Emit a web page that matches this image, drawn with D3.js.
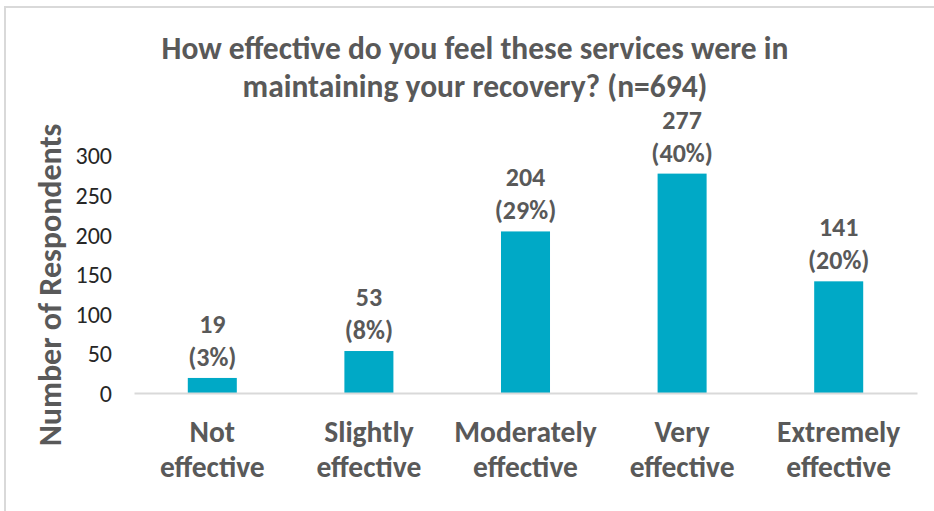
<!DOCTYPE html>
<html>
<head>
<meta charset="utf-8">
<script src="https://cdn.jsdelivr.net/npm/d3@7"></script>
<style>
  html, body { margin: 0; padding: 0; background: #fff; }
  svg { display: block; font-family: Carlito, Calibri, Lato, "Open Sans", sans-serif; }
</style>
</head>
<body>
<svg id="chart" width="934" height="511"></svg>
<script>
// Survey responses: perceived effectiveness of services in maintaining recovery
const categories = [
  ["Not", "effective"],
  ["Slightly", "effective"],
  ["Moderately", "effective"],
  ["Very", "effective"],
  ["Extremely", "effective"]
];
const counts = [19, 53, 204, 277, 141];
const percents = ["3%", "8%", "29%", "40%", "20%"];
const yTicks = [0, 50, 100, 150, 200, 250, 300];
const titleLines = [
  "How effective do you feel these services were in",
  "maintaining your recovery? (n=694)"
];
const yTitle = "Number of Respondents";

const W = 934, H = 511;
const svg = d3.select("#chart");
const textGray = "#595959";
const barColor = "#00A9C6";

// chart frame
svg.append("rect")
  .attr("x", 5).attr("y", 7)
  .attr("width", W + 20).attr("height", H + 20)
  .attr("fill", "#fff")
  .attr("stroke", "#D9D9D9").attr("stroke-width", 2);

const keys = categories.map(c => c.join(" "));
const pad = 0.687;
const x = d3.scaleBand()
  .domain(keys)
  .range([134, 917])
  .paddingInner(pad)
  .paddingOuter(pad / 2);

const y = d3.scaleLinear().domain([0, 300]).range([393, 155.4]);

// title
svg.append("text")
  .attr("text-anchor", "middle")
  .attr("fill", textGray)
  .attr("font-weight", "bold")
  .attr("font-size", 31.5)
  .selectAll("tspan")
  .data(titleLines)
  .join("tspan")
  .attr("x", 475)
  .attr("y", (d, i) => 48 + i * 38)
  .attr("dominant-baseline", "central")
  .text(d => d);

// y axis labels
const yAxis = d3.axisLeft(y).tickValues(yTicks).tickSize(0).tickPadding(0);
const gy = svg.append("g")
  .attr("transform", "translate(112,0)")
  .call(yAxis);
gy.select(".domain").remove();
gy.selectAll("text")
  .attr("font-family", "Carlito, Calibri, Lato, sans-serif")
  .attr("font-size", 24)
  .attr("fill", "#262626")
  .attr("dy", "0.35em");

// y axis title
svg.append("text")
  .attr("transform", "translate(50,285) rotate(-90)")
  .attr("text-anchor", "middle")
  .attr("dominant-baseline", "central")
  .attr("font-weight", "bold")
  .attr("font-size", 32)
  .attr("fill", textGray)
  .text(yTitle);

// bars
svg.append("g")
  .selectAll("rect")
  .data(counts)
  .join("rect")
  .attr("x", (d, i) => x(keys[i]))
  .attr("width", x.bandwidth())
  .attr("y", d => y(d))
  .attr("height", d => y(0) - y(d))
  .attr("fill", barColor);

// baseline
const gx = svg.append("g")
  .attr("transform", `translate(0,${y(0)})`)
  .call(d3.axisBottom(x).tickSize(0).tickFormat(""));
gx.select(".domain")
  .attr("stroke", "#D9D9D9")
  .attr("stroke-width", 2);

// category labels
const catG = svg.append("g")
  .selectAll("text")
  .data(categories)
  .join("text")
  .attr("text-anchor", "middle")
  .attr("font-weight", "bold")
  .attr("font-size", 29.5)
  .attr("fill", textGray);
catG.selectAll("tspan")
  .data((d, i) => d.map(s => ({ s, i })))
  .join("tspan")
  .attr("x", d => x(keys[d.i]) + x.bandwidth() / 2)
  .attr("y", (d, j) => 432 + j * 35)
  .attr("dominant-baseline", "central")
  .text(d => d.s);

// value labels
const lab = svg.append("g")
  .selectAll("g")
  .data(counts)
  .join("g")
  .attr("transform", (d, i) => `translate(${x(keys[i]) + x.bandwidth() / 2},${y(d)})`);
lab.append("text")
  .attr("y", -54)
  .attr("text-anchor", "middle")
  .attr("dominant-baseline", "central")
  .attr("font-weight", "bold")
  .attr("font-size", 26)
  .attr("fill", textGray)
  .text(d => d);
lab.append("text")
  .attr("y", -21)
  .attr("text-anchor", "middle")
  .attr("dominant-baseline", "central")
  .attr("font-weight", "bold")
  .attr("font-size", 26)
  .attr("fill", textGray)
  .text((d, i) => `(${percents[i]})`);
</script>
</body>
</html>
